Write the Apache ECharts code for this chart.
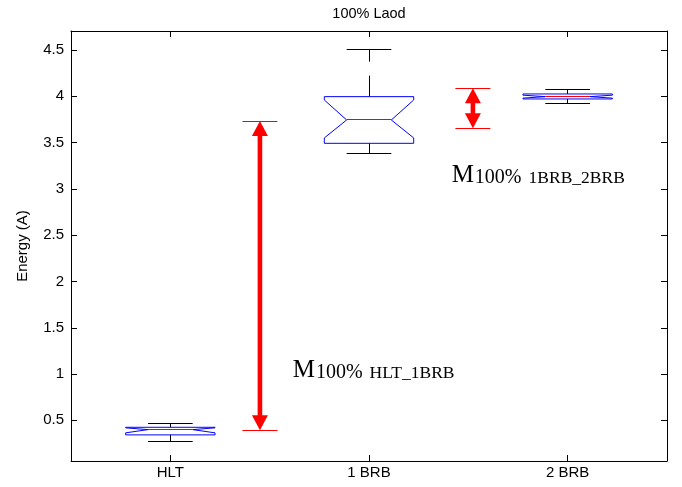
<!DOCTYPE html>
<html><head><meta charset="utf-8">
<script src="https://cdn.jsdelivr.net/npm/echarts@6/dist/echarts.min.js"></script>
<style>html,body{margin:0;padding:0;background:#fff}#c{width:682px;height:487px}</style>
</head><body><div id="c"></div>
<script>
// ---- data ----
const categories = ['HLT', '1 BRB', '2 BRB'];
const whiskerLow  = [0.274, 3.384, 3.924];
const quart1      = [0.343, 3.492, 3.971];
const notchLow    = [0.365, 3.550, 3.980];
const medians     = [0.400, 3.744, 3.996];
const notchHigh   = [0.419, 3.960, 4.012];
const quart3      = [0.425, 3.996, 4.025];
const whiskerHigh = [0.462, 4.508, 4.068];
const yTicks = [0.5, 1, 1.5, 2, 2.5, 3, 3.5, 4, 4.5];
const xTicks = [1, 2, 3];
const arrowX    = [1.451, 2.523];
const arrowFrom = [0.393, 3.654];
const arrowTo   = [3.733, 4.086];
const noteSub = ['HLT_1BRB', '1BRB_2BRB'];
const noteX = [1.616, 2.416];
const noteY = [0.905, 3.014];

// ---- chart ----
const FONT = 'Liberation Sans';
const SERIF = 'Liberation Serif';
const X_MIN = 0.5, X_MAX = 3.5, Y_MIN = 0.061, Y_MAX = 4.705;
const BOX_HALF = 0.225, CAP_HALF = 0.1125;
const DASH = 21, GAP = 14;

const boxData = categories.map((c, i) => [i + 1, whiskerLow[i], quart1[i], notchLow[i], medians[i], notchHigh[i], quart3[i], whiskerHigh[i]]);
const arrowData = arrowX.map((x, i) => [x, arrowFrom[i], arrowTo[i]]);
const noteData = noteX.map((x, i) => [x, noteY[i]]);

const crisp = v => Math.round(v - 0.5) + 0.5;
function ln(a, b, stroke) {
  let x1 = a[0], y1 = a[1], x2 = b[0], y2 = b[1];
  if (Math.abs(x1 - x2) < 0.01) { x1 = x2 = crisp(x1); }
  if (Math.abs(y1 - y2) < 0.01) { y1 = y2 = crisp(y1); }
  return { type: 'line', shape: { x1: x1, y1: y1, x2: x2, y2: y2 },
           style: { stroke: stroke, lineWidth: 1 } };
}
// dashed vertical segment starting at a, heading to b
function dashed(a, b, stroke) {
  const out = [];
  const total = Math.abs(b[1] - a[1]);
  const dir = b[1] > a[1] ? 1 : -1;
  let s = 0;
  while (s < total) {
    const e = Math.min(s + DASH, total);
    out.push(ln([a[0], a[1] + dir * s], [a[0], a[1] + dir * e], stroke));
    s = e + GAP;
  }
  return out;
}

function renderBox(params, api) {
  const x = api.value(0);
  const lw = api.value(1), q1 = api.value(2), nLo = api.value(3), med = api.value(4),
        nHi = api.value(5), q3 = api.value(6), uw = api.value(7);
  const P = (dx, y) => api.coord([x + dx, y]);
  const B = BOX_HALF, C = CAP_HALF;
  const pts = [P(-B, q1), P(-B, nLo), P(-C, med), P(-B, nHi), P(-B, q3),
               P(B, q3), P(B, nHi), P(C, med), P(B, nLo), P(B, q1)];
  return {
    type: 'group',
    children: [].concat(
      dashed(P(0, q3), P(0, uw), '#000'),
      dashed(P(0, q1), P(0, lw), '#000'),
      [ln(P(-C, uw), P(C, uw), '#000'),
       ln(P(-C, lw), P(C, lw), '#000'),
       { type: 'polygon', shape: { points: pts }, style: { fill: 'none', stroke: '#0000ff', lineWidth: 1 } },
       ln(P(-C, med), P(C, med), '#ff0000')]
    )
  };
}

function renderArrow(params, api) {
  const x = api.value(0);
  const lo = api.coord([x, api.value(1)]);
  const hi = api.coord([x, api.value(2)]);
  const cx = lo[0];
  const HL = 15, HW = 8, SW = 2.3, BAR = 17.5;
  const red = '#ff0000';
  return {
    type: 'group',
    children: [
      ln([cx - BAR, hi[1]], [cx + BAR, hi[1]], red),
      ln([cx - BAR, lo[1]], [cx + BAR, lo[1]], red),
      { type: 'rect', shape: { x: cx - SW, y: hi[1] + HL - 1, width: SW * 2, height: (lo[1] - hi[1]) - 2 * HL + 2 }, style: { fill: red } },
      { type: 'polygon', shape: { points: [[cx, hi[1]], [cx - HW, hi[1] + HL], [cx + HW, hi[1] + HL]] }, style: { fill: red } },
      { type: 'polygon', shape: { points: [[cx, lo[1]], [cx - HW, lo[1] - HL], [cx + HW, lo[1] - HL]] }, style: { fill: red } }
    ]
  };
}

function renderNote(params, api) {
  const p = api.coord([api.value(0), api.value(1)]);
  return {
    type: 'text', x: p[0], y: p[1],
    style: {
      text: '{m|M}{p|100%}{s|' + noteSub[params.dataIndex] + '}',
      align: 'left', verticalAlign: 'bottom',
      rich: {
        m: { fontFamily: SERIF, fontSize: 25, lineHeight: 34.7, verticalAlign: 'bottom', fill: '#000' },
        p: { fontFamily: SERIF, fontSize: 20, lineHeight: 20.6, verticalAlign: 'bottom', fill: '#000', padding: [0, 0, 0, 1] },
        s: { fontFamily: SERIF, fontSize: 17.5, lineHeight: 18.9, verticalAlign: 'bottom', fill: '#000', padding: [0, 0, 0, 7] }
      }
    }
  };
}

const axisLine = { show: true, lineStyle: { color: '#000', width: 1 } };
const tickIn = (vals) => ({ show: true, inside: true, length: 6, customValues: vals, lineStyle: { color: '#000', width: 1 } });

const option = {
  animation: false,
  backgroundColor: '#fff',
  title: {
    text: '100% Laod', left: 369, textAlign: 'center', top: 6, padding: 0,
    textStyle: { fontFamily: FONT, fontSize: 14.5, fontWeight: 'normal', color: '#000' }
  },
  grid: { left: 71, right: 15, top: 31, bottom: 26, containLabel: false },
  xAxis: [
    {
      type: 'value', min: X_MIN, max: X_MAX, position: 'bottom',
      axisLine: axisLine, axisTick: tickIn(xTicks), splitLine: { show: false },
      axisLabel: { customValues: xTicks, margin: 4, fontFamily: FONT, fontSize: 15, color: '#000',
        formatter: v => categories[Math.round(v) - 1] }
    },
    {
      type: 'value', min: X_MIN, max: X_MAX, position: 'top',
      axisLine: axisLine, axisTick: tickIn(xTicks), splitLine: { show: false },
      axisLabel: { show: false, customValues: xTicks }
    }
  ],
  yAxis: [
    {
      type: 'value', min: Y_MIN, max: Y_MAX, position: 'left',
      name: 'Energy (A)', nameLocation: 'middle', nameGap: 41,
      nameTextStyle: { fontFamily: FONT, fontSize: 15, color: '#000' },
      axisLine: axisLine, axisTick: tickIn(yTicks), splitLine: { show: false },
      axisLabel: { customValues: yTicks, margin: 7, fontFamily: FONT, fontSize: 15, color: '#000' }
    },
    {
      type: 'value', min: Y_MIN, max: Y_MAX, position: 'right',
      axisLine: axisLine, axisTick: tickIn(yTicks), splitLine: { show: false },
      axisLabel: { show: false, customValues: yTicks }
    }
  ],
  series: [
    { type: 'custom', name: 'box', renderItem: renderBox, data: boxData, xAxisIndex: 0, yAxisIndex: 0, z: 3, clip: false },
    { type: 'custom', name: 'arrows', renderItem: renderArrow, data: arrowData, xAxisIndex: 0, yAxisIndex: 0, z: 4, clip: false },
    { type: 'custom', name: 'notes', renderItem: renderNote, data: noteData, xAxisIndex: 0, yAxisIndex: 0, z: 5, clip: false }
  ]
};

const chart = echarts.init(document.getElementById('c'), null, { renderer: 'canvas' });
chart.setOption(option);
</script>
</body></html>
